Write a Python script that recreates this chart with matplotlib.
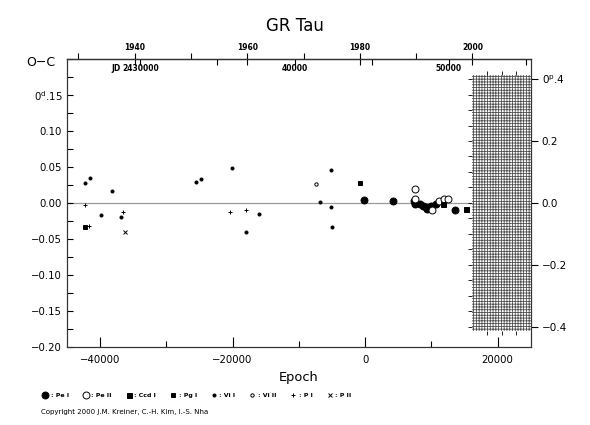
import numpy as np
import matplotlib
matplotlib.use('Agg')
import matplotlib.pyplot as plt
from matplotlib.patches import Rectangle
from matplotlib.lines import Line2D

# ephemeris used for the top (year / JD) axes and the phase axis
P = 0.42985
T0 = 2444580.0

pe1_epoch = [-100, 4250, 7400, 7500, 7600, 8250, 8800, 9250, 9400, 9900, 10750, 13500]
pe1_oc = [0.004, 0.002, 0.002, 0.000, -0.002, -0.002, -0.004, -0.006, -0.009, -0.004, -0.002, -0.010]
pe2_epoch = [7500, 7500, 10100, 11100, 11900, 12500]
pe2_oc = [0.019, 0.005, -0.010, 0.003, 0.005, 0.005]
ccd1_epoch = [11750, 15250]
ccd1_oc = [-0.002, -0.008]
pg1_epoch = [-42350, -750]
pg1_oc = [-0.033, 0.028]
vi1_epoch = [-42350, -41600, -38250, -39900, -36800, -25550, -24800, -20150,
             -16000, -18000, -5150, -5150, -5050, -6850]
vi1_oc = [0.027, 0.035, 0.017, -0.017, -0.019, 0.029, 0.033, 0.048,
          -0.016, -0.040, 0.045, -0.006, -0.034, 0.0015]
vi2_epoch = [-7400]
vi2_oc = [0.026]
p1_epoch = [-42350, -36600, -20400, -18000, -41650]
p1_oc = [-0.003, -0.0125, -0.0125, -0.010, -0.032]
p2_epoch = [-36300]
p2_oc = [-0.040]

year_major = [1940, 1960, 1980, 2000]
year_minor = [1930, 1950, 1970, 1990]
jd_ticks = [2430000, 2435000, 2440000, 2445000, 2450000, 2455000]
jd_labels = ['2430000', '', '40000', '', '50000', '']


def epoch_to_jd(e):
    return T0 + P * np.asarray(e)


def jd_to_epoch(j):
    return (np.asarray(j) - T0) / P


def epoch_to_year(e):
    return 2000.0 + (epoch_to_jd(e) - 2451544.5) / 365.25


def year_to_epoch(y):
    return jd_to_epoch(2451544.5 + (np.asarray(y) - 2000.0) * 365.25)


plt.rcParams['hatch.linewidth'] = 0.6

fig = plt.figure(figsize=(5.9, 4.25), dpi=100)
ax = fig.add_axes([0.1136, 0.1842, 0.7859, 0.677])
ax.set_xlim(-45000, 25000)
ax.set_ylim(-0.2, 0.2)
ax.axhline(0, color='#9a9a9a', lw=0.9, zorder=1)

# (label, epochs, o-c, marker, filled, size)
series = [
    (': Pe I', pe1_epoch, pe1_oc, 'o', True, 5),
    (': Pe II', pe2_epoch, pe2_oc, 'o', False, 5),
    (': Ccd I', ccd1_epoch, ccd1_oc, 's', True, 3.6),
    (': Pg I', pg1_epoch, pg1_oc, 's', True, 3),
    (': Vi I', vi1_epoch, vi1_oc, 'o', True, 2.2),
    (': Vi II', vi2_epoch, vi2_oc, 'o', False, 2.4),
    (': P I', p1_epoch, p1_oc, '+', True, 3),
    (': P II', p2_epoch, p2_oc, 'x', True, 2.5),
]
handles = []
for lab, ex, oc, mk, filled, ms in series:
    ax.plot(ex, oc, ls='none', marker=mk, ms=ms, mec='black',
            mfc='black' if filled else 'white', mew=0.7, zorder=3)
    handles.append(Line2D([], [], ls='none', marker=mk, ms=ms, mec='black',
                          mfc='black' if filled else 'white', mew=0.7, label=lab))

for s in ax.spines.values():
    s.set_linewidth(0.8)
    s.set_color('#333333')

# bottom epoch axis
ax.set_xticks([-40000, -20000, 0, 20000])
ax.set_xticks([-30000, -10000, 10000], minor=True)
ax.tick_params(axis='x', which='major', direction='in', length=7, width=0.8,
               labelsize=7.3, pad=6, top=False)
ax.tick_params(axis='x', which='minor', direction='in', length=4, width=0.8, top=False)
ax.set_xlabel('Epoch', fontsize=9.4, labelpad=4)

# left O-C axis
yt = np.round(np.arange(-0.2, 0.2001, 0.05), 2)
ylabs = []
for v in yt:
    if v == 0.2:
        ylabs.append('')
    elif v == 0.15:
        ylabs.append('0$^{\\rm d}$.15')
    else:
        ylabs.append(f'{abs(v):.2f}' if v == 0 else f'{v:.2f}'.replace('-', '\u2212'))
ax.set_yticks(yt, labels=ylabs)
ax.set_yticks(np.arange(-0.2, 0.2001, 0.025), minor=True)
ax.tick_params(axis='y', which='both', direction='in', length=4, width=0.8,
               labelsize=7.3, right=False)
fig.text(41 / 590, 1 - 62 / 425, 'O\u2212C', fontsize=9, ha='center', va='center')

# right phase axis
ax2 = ax.twinx()
ax2.set_ylim(-0.2 / P, 0.2 / P)
ax2.set_yticks([-0.4, -0.2, 0, 0.2, 0.4],
               labels=['\u22120.4', '\u22120.2', '0.0', '0.2', '0$^{\\rm p}$.4'])
ax2.tick_params(axis='y', direction='out', length=5, width=0.8, labelsize=7.5, pad=3)
for s in ax2.spines.values():
    s.set_linewidth(0.8)
    s.set_color('#333333')

# top axis: calendar years
secy = ax.secondary_xaxis('top', functions=(epoch_to_year, year_to_epoch))
secy.set_xticks(year_major, labels=[str(y) for y in year_major],
                fontsize=5.5, fontweight='bold')
secy.set_xticks(year_minor, minor=True)
secy.tick_params(which='major', direction='inout', length=8, width=0.8, pad=1)
secy.tick_params(which='minor', direction='out', length=4, width=0.8)
secy.spines['top'].set_linewidth(0.8)

# top axis: JD ticks inside
secjd = ax.secondary_xaxis('top', functions=(epoch_to_jd, jd_to_epoch))
secjd.set_xticks(jd_ticks, labels=jd_labels, fontsize=5.5, fontweight='bold')
secjd.tick_params(direction='in', length=4, width=0.8, pad=-10)
ax.annotate('JD', xy=(jd_to_epoch(jd_ticks[0]), 1), xycoords=('data', 'axes fraction'),
            xytext=(-14, -10), textcoords='offset points', ha='right', va='bottom',
            fontsize=5.5, fontweight='bold')

# hatched future region (after 2000)
ep2000 = float(year_to_epoch(2000.0))
hh = 0.1775
axh = ax.inset_axes([ep2000, -hh, 25000 - ep2000, 2 * hh], transform=ax.transData)
axh.set_xlim(0, 1)
axh.set_ylim(-hh / P, hh / P)
axh.add_patch(Rectangle((0, 0), 1, 1, transform=axh.transAxes, facecolor='white',
                        edgecolor='#505050', hatch='++++++', lw=0))
for s in axh.spines.values():
    s.set_visible(False)
axh.set_yticks(np.arange(-0.4, 0.401, 0.05))
axh.set_xticks([0.25, 0.5, 0.75])
axh.tick_params(axis='y', direction='out', length=3, width=0.6, labelleft=False)
axh.tick_params(axis='x', direction='out', length=3, width=0.6, top=True,
                labelbottom=False)

fig.legend(handles=handles, loc='center left', bbox_to_anchor=(0.072, 1 - 395 / 425),
           ncol=8, frameon=False, prop={'size': 4.5, 'weight': 'bold'},
           handlelength=0.8, handletextpad=0.5, columnspacing=2.3,
           borderpad=0, borderaxespad=0)

fig.text(41 / 590, 1 - 412 / 425, 'Copyright 2000 J.M. Kreiner, C.-H. Kim, I.-S. Nha',
         fontsize=5, ha='left', va='center')
fig.suptitle('GR Tau', fontsize=12, y=1 - 26 / 425, va='center')

fig.savefig('out.png', dpi=100)
